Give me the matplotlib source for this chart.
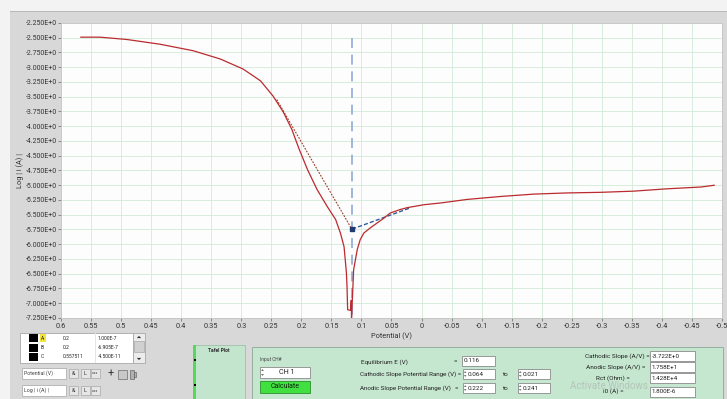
import matplotlib
matplotlib.use("Agg")
import matplotlib.pyplot as plt
from matplotlib.patches import Rectangle, Polygon
from matplotlib.ticker import FuncFormatter

plt.rcParams['font.family'] = ['Roboto', 'DejaVu Sans']

# polarisation curve (potential in V, log|i| in A)
potential = [0.567, 0.55, 0.535, 0.49, 0.435, 0.38, 0.335, 0.297, 0.268, 0.247,
             0.23, 0.216, 0.204, 0.19, 0.174, 0.157, 0.143, 0.135, 0.129, 0.127,
             0.125, 0.124, 0.123, 0.118, 0.117, 0.1165, 0.115, 0.113, 0.11, 0.107,
             0.102, 0.096, 0.085, 0.074, 0.063, 0.052, 0.035, 0.024, -0.004, -0.032,
             -0.076, -0.132, -0.187, -0.243, -0.298, -0.353, -0.409, -0.465, -0.487]
log_i = [-2.49, -2.49, -2.49, -2.53, -2.61, -2.72, -2.86, -3.03, -3.23, -3.49,
         -3.76, -4.05, -4.38, -4.73, -5.07, -5.36, -5.58, -5.81, -6.04, -6.26,
         -6.49, -6.72, -7.11, -7.12, -6.95, -7.25, -6.90, -6.43, -6.26, -6.09,
         -5.92, -5.81, -5.72, -5.64, -5.56, -5.47, -5.41, -5.38, -5.33, -5.30,
         -5.24, -5.19, -5.15, -5.13, -5.12, -5.10, -5.06, -5.03, -5.00]

# fit results shown in the panel
e_eq = 0.116
log_i0 = -5.745
cath_range = [0.064, 0.021]
anod_range = [0.222, 0.241]
cath_slope = -3.722
anod_slope = 17.58
marker_span = [-2.5, -7.25]

x_ticks = [0.6, 0.55, 0.5, 0.45, 0.4, 0.35, 0.3, 0.25, 0.2, 0.15, 0.1, 0.05, 0.0,
           -0.05, -0.1, -0.15, -0.2, -0.25, -0.3, -0.35, -0.4, -0.45, -0.5]
y_ticks = [-2.25, -2.5, -2.75, -3.0, -3.25, -3.5, -3.75, -4.0, -4.25, -4.5, -4.75,
           -5.0, -5.25, -5.5, -5.75, -6.0, -6.25, -6.5, -6.75, -7.0, -7.25]

legend_rows = [("A", "0.2", "1.000E-7"), ("B", "0.2", "-6.905E-7"),
               ("C", "0.557511", "-4.500E-11")]
results = [("Cathodic Slope (A/V) =", "-3.722E+0"), ("Anodic Slope (A/V) =", "1.758E+1"),
           ("Rct (Ohm) =", "1.428E+4"), ("i0 (A) =", "1.800E-6")]

W, H = 727, 399
fig = plt.figure(figsize=(W / 100, H / 100), dpi=100)
fig.patch.set_facecolor('#d8d8d8')


def box(x0, y0, x1, y1, fc, ec='none', lw=0.6, z=0):
    fig.add_artist(Rectangle((x0 / W, 1 - y1 / H), (x1 - x0) / W, (y1 - y0) / H,
                             transform=fig.transFigure, fc=fc, ec=ec, lw=lw, zorder=z))


def txt(x, y, s, size=4.8, **kw):
    kw.setdefault('va', 'center')
    kw.setdefault('color', '#222222')
    fig.text(x / W, 1 - y / H, s, fontsize=size, **kw)


def tri(x, y, up=True, s=2.0):
    d = -s if up else s
    pts = [((x - s) / W, 1 - (y - d / 2) / H), ((x + s) / W, 1 - (y - d / 2) / H),
           (x / W, 1 - (y + d / 2) / H)]
    fig.add_artist(Polygon(pts, closed=True, transform=fig.transFigure,
                           fc='#333333', ec='none', zorder=3))


# window frame
box(0, 0, W, 11, '#f3f3f3')
box(0, 0, 10, H, '#f3f3f3')
box(10, 11, W, 11.6, '#b8b8b8')

ax = fig.add_axes([61 / W, 1 - 318 / H, (722 - 61) / W, (318 - 23) / H])
ax.set_facecolor('#fdfdfd')

ax.plot([e_eq, e_eq], marker_span, color='#8fabd6', lw=1.2,
        dashes=(6, 4), zorder=2)
ax.plot([anod_range[1], e_eq],
        [log_i0 + anod_slope * (anod_range[1] - e_eq), log_i0],
        color='#9a3f2a', lw=0.8, dashes=(1.6, 1.2), zorder=2)
ax.plot([cath_range[1], e_eq],
        [log_i0 + cath_slope * (cath_range[1] - e_eq), log_i0],
        color='#2f5d9c', lw=1.0, dashes=(3, 1.5), zorder=2)
ax.plot(potential, log_i, color='#bb2a2e', lw=0.9, zorder=3)
ax.plot([e_eq], [log_i0], 's', color='#1e3a6e', ms=2.5, zorder=4)

ax.set_xlim(0.6, -0.5)
ax.set_ylim(-7.25, -2.25)
ax.set_xticks(x_ticks)
ax.set_yticks(y_ticks)
ax.xaxis.set_major_formatter(FuncFormatter(lambda v, p: '%g' % round(v, 3) if abs(v) > 1e-9 else '0'))
ax.yaxis.set_major_formatter(FuncFormatter(lambda v, p: '%.3fE+0' % v))
ax.grid(True, color='#d3ebd8', lw=0.6)
ax.set_axisbelow(True)
ax.tick_params(direction='out', length=2, width=0.5, color='#666666',
               labelsize=5.3, labelcolor='#333333')
ax.tick_params(axis='y', pad=1, labelsize=5.0)
ax.tick_params(axis='x', pad=1.5)
for sp in ax.spines.values():
    sp.set_color('#c4c4c4')
    sp.set_linewidth(0.6)

ax.set_xlabel("Potential (V)", fontsize=5.3, color='#333333')
ax.xaxis.set_label_coords(0.5, -0.05)
ax.set_ylabel("Log | i (A) |", fontsize=5.3, color='#333333')
ax.yaxis.set_label_coords(-0.056, 0.5)

# cursor legend
box(20, 333, 133, 363, 'white', '#a8a8a8')
box(60, 333, 60.5, 363, '#e4e4e4')
box(95, 333, 95.5, 363, '#e4e4e4')
for k, (name, cx, cy) in enumerate(legend_rows):
    yc = 338 + k * 9.5
    box(29, yc - 4, 38, yc + 4, 'black')
    if k == 0:
        box(40, yc - 4, 46, yc + 4, '#f4e33a')
    txt(41, yc, name, size=3.6)
    txt(63, yc, cx, size=3.6)
    txt(98, yc, cy, size=3.6)
box(133, 333, 145, 363, '#ececec', '#a8a8a8')
box(134, 341, 144, 352, '#d0d0d0', '#999999', lw=0.4)
tri(139, 337, up=True, s=2.2)
tri(139, 359, up=False, s=2.2)

# axis name controls
for k, name in enumerate(["Potential (V)", "Log | i (A) |"]):
    y0 = 368 + k * 17
    box(22, y0, 66, y0 + 11, 'white', '#b0b0b0')
    txt(24, y0 + 5.5, name, size=3.8, color='#444444')
    for x0 in (69, 81, 91):
        box(x0, y0 + 1, x0 + 9, y0 + 10, '#e6e6e6', '#9a9a9a', lw=0.4)
    txt(73.5, y0 + 5.5, "&", size=4, ha='center', color='#333333')
    txt(85.5, y0 + 5.5, "L", size=4, ha='center', color='#333333')
    txt(95.5, y0 + 5.5, "x.xx", size=2.6, ha='center', color='#333333')
txt(111, 374, "+", size=8, ha='center', color='#333333')
box(118, 370, 127, 379, '#c8c8c8', '#555555', lw=0.4)
# hand tool icon
box(130, 370, 134, 379, '#b0b0b0', '#555555', lw=0.4)
box(134, 372, 136, 377, '#b0b0b0', '#555555', lw=0.4)

# Tafel Plot tab
box(193, 345, 245, H, '#c3e5cd', '#9fbfaa')
box(193, 345, 196, H, '#57d957')
box(194, 359, 195.5, 361, 'black', z=2)
box(194, 384, 195.5, 386, 'black', z=2)
txt(219, 351, "Tafel Plot", size=3.6, ha='center', weight='bold', color='#333333')

# calculation panel
box(252, 347, 723, H + 2, '#c5e6cf', '#8aa898')
txt(260, 360, "Input CH#", size=3.4, color='#444444')
box(260, 367, 310, 378, 'white', '#8a8a8a')
tri(262.5, 370, up=True, s=1.4)
tri(262.5, 375, up=False, s=1.4)
txt(287, 372.5, "CH 1", size=5.2, ha='center')
box(260, 381, 310, 393, '#3fe03f', '#2d8f2d')
txt(285, 387, "Calculate", size=5.0, ha='center', color='#0d260d')

txt(361, 362, "Equilibrium E (V)", size=4.6)
txt(455, 362, "=", size=4.6, ha='center')
txt(360, 374, "Cathodic Slope Potential Range (V) =", size=4.5)
txt(360, 388.5, "Anodic Slope Potential Range (V)", size=4.5)
txt(456, 388.5, "=", size=4.5, ha='center')

box(462, 356, 495, 366, 'white', '#8a8a8a')
txt(464, 361, "%.3f" % e_eq, size=4.6)
for (y0, a, b) in [(369, cath_range[0], cath_range[1]), (383, anod_range[0], anod_range[1])]:
    for x0, v in [(463, a), (518, b)]:
        box(x0, y0, x0 + 32, y0 + 10, 'white', '#8a8a8a')
        tri(x0 + 2.2, y0 + 3, up=True, s=1.3)
        tri(x0 + 2.2, y0 + 7, up=False, s=1.3)
        txt(x0 + 5, y0 + 5, "%.3f" % v, size=4.6)
    txt(506, y0 + 5.5, "to", size=4.6, ha='center')

txt(570, 386, "Activate Windows", size=7, color='#b4c4ba')
box_y = [351, 362, 373, 386.5]
label_x = [650, 645, 630, 624]
for (lab, val), y0, lx in zip(results, box_y, label_x):
    box(650, y0, 695, y0 + 10, 'white', '#8a8a8a')
    txt(lx, y0 + 5, lab, size=4.6, ha='right')
    txt(651.5, y0 + 5, val, size=4.5)

fig.savefig("out.png", dpi=100, facecolor=fig.get_facecolor())
